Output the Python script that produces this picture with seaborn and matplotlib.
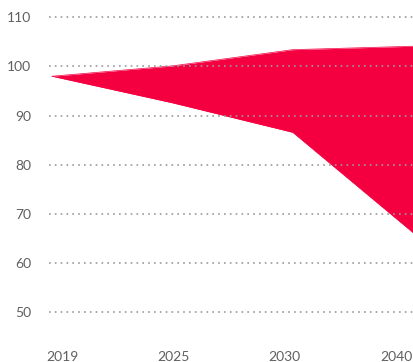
import matplotlib
matplotlib.use("Agg")
import matplotlib.pyplot as plt
import seaborn as sns
import numpy as np
import pandas as pd

years = ["2019", "2025", "2030", "2040"]
upper = [98.0, 100.1, 103.4, 104.1]
lower = [98.0, 92.6, 86.6, 66.2]
y_ticks = [50, 60, 70, 80, 90, 100, 110]

sns.set_style("white")
plt.rcParams["font.family"] = ["Lato", "DejaVu Sans"]

df = pd.DataFrame({"year": years, "upper": upper, "lower": lower})
df["pos"] = np.arange(len(df))

fig = plt.figure(figsize=(4.14, 3.62), dpi=100)
ax = fig.add_axes([49 / 414, 1 - 330 / 362, 1 - 49 / 414, 330 / 362])

band = "#F40041"
sns.lineplot(data=df, x="pos", y="upper", ax=ax, color=band, lw=0.5, zorder=2)
sns.lineplot(data=df, x="pos", y="lower", ax=ax, color=band, lw=0.5, zorder=2)
ax.fill_between(df["pos"], df["lower"], df["upper"], color=band, lw=0, zorder=2)

ax.set_xlim(-0.025, 3.008)
ax.set_ylim(46.4, 113.5)

ax.set_yticks(y_ticks)
ax.set_yticklabels([str(v) for v in y_ticks])
ax.yaxis.grid(True, color="#9a9a9a", linestyle=(0, (1, 2.5)), lw=1.2, zorder=3)
ax.set_axisbelow(False)
ax.xaxis.grid(False)

# year labels spread evenly along the bottom
ax.set_xticks(np.linspace(0.083, 2.86, len(years)))
ax.set_xticklabels(years)

ax.tick_params(axis="both", length=0, labelsize=10, colors="#606060")
ax.tick_params(axis="y", pad=13)
ax.tick_params(axis="x", pad=15)
ax.set_xlabel("")
ax.set_ylabel("")
for s in ax.spines.values():
    s.set_visible(False)

fig.savefig("out.png", dpi=100)
